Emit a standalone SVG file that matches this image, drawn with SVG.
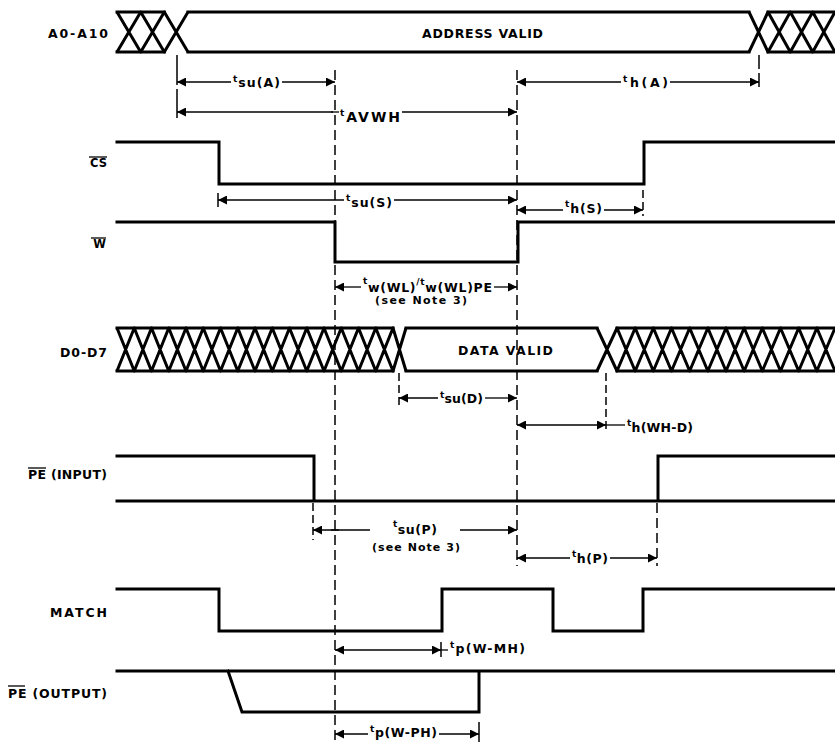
<svg xmlns="http://www.w3.org/2000/svg" width="835" height="742" viewBox="0 0 835 742">
<defs>
<marker id="ah" viewBox="0 0 10 10" refX="10" refY="5" markerWidth="10" markerHeight="9" markerUnits="userSpaceOnUse" orient="auto">
<path d="M0,0 L10,5 L0,10 z" fill="#000"/>
</marker>
<style>
.sig{fill:none;stroke:#000;stroke-width:3;stroke-linejoin:miter;stroke-linecap:square}
.hx{fill:none;stroke:#000;stroke-width:3;stroke-linejoin:round}
.dash{fill:none;stroke:#000;stroke-width:1.5;stroke-dasharray:10 5}
.tick{fill:none;stroke:#000;stroke-width:1.5}
.dim{fill:none;stroke:#000;stroke-width:1.3}
.arr{marker-end:url(#ah)}
.ov{stroke:#000;stroke-width:1.3}
.lb{font-family:"DejaVu Sans","Liberation Sans",Arial,sans-serif;font-weight:bold;font-size:12.5px;fill:#000}
.sm{font-size:11.5px}
.tm{font-family:"DejaVu Sans","Liberation Sans",Arial,sans-serif;font-weight:bold;font-size:12.5px;fill:#000}
.t{font-size:9px}
</style>
</defs>
<rect width="835" height="742" fill="#fff"/>

<g id="sig-address">
<path class="hx" d="M117,12 L140.7,52 L164.3,12 L188,52 M117,52 L140.7,12 L164.3,52 L188,12"/>
<path class="sig" d="M117,12 H164.3 M117,52 H164.3 M188,12 H749 M188,52 H749 M768,12 H835 M768,52 H835"/>
<path class="hx" d="M749,12 L768,52 L790.3,12 L812.7,52 L835,12 M749,52 L768,12 L790.3,52 L812.7,12 L835,52"/>
<text class="lb" x="48" y="38" textLength="60" lengthAdjust="spacing">A0-A10</text>
<text class="lb" x="422" y="38" textLength="121" lengthAdjust="spacing">ADDRESS VALID</text>
</g>

<g id="sig-cs">
<path class="sig" d="M117,142 H219 V184 H644 V142 H835"/>
<text class="lb sm" x="107" y="167" text-anchor="end">CS</text>
<line class="ov" x1="89" y1="157" x2="107" y2="157"/>
</g>

<g id="sig-w">
<path class="sig" d="M117,222 H335 V262 H518 V222 H835"/>
<text class="lb sm" x="106" y="248" text-anchor="end">W</text>
<line class="ov" x1="91" y1="238" x2="106" y2="238"/>
</g>

<g id="sig-data">
<path class="hx" d="M117,328 L134.25,371 L151.5,328 L168.75,371 L186,328 L203.25,371 L220.5,328 L237.75,371 L255,328 L272.25,371 L289.5,328 L306.75,371 L324,328 L341.25,371 L358.5,328 L375.75,371 L393,328 L406,371 M117,371 L134.25,328 L151.5,371 L168.75,328 L186,371 L203.25,328 L220.5,371 L237.75,328 L255,371 L272.25,328 L289.5,371 L306.75,328 L324,371 L341.25,328 L358.5,371 L375.75,328 L393,371 L406,328"/>
<path class="sig" d="M117,328 H393 M117,371 H393 M406,328 H597 M406,371 H597 M617,328 H835 M617,371 H835"/>
<path class="hx" d="M597,328 L617,371 L635.17,328 L653.33,371 L671.5,328 L689.67,371 L707.83,328 L726,371 L744.17,328 L762.33,371 L780.5,328 L798.67,371 L816.83,328 L835,371 M597,371 L617,328 L635.17,371 L653.33,328 L671.5,371 L689.67,328 L707.83,371 L726,328 L744.17,371 L762.33,328 L780.5,371 L798.67,328 L816.83,371 L835,328"/>
<text class="lb" x="60" y="357" textLength="47" lengthAdjust="spacing">D0-D7</text>
<text class="lb" x="458" y="355" textLength="95" lengthAdjust="spacing">DATA VALID</text>
</g>

<g id="sig-pe-input">
<path class="sig" d="M117,456 H314 V501 M117,501 H835 M658,501 V456 H835"/>
<text class="lb" x="28" y="479" textLength="79" lengthAdjust="spacing">PE (INPUT)</text>
<line class="ov" x1="28" y1="468" x2="46" y2="468"/>
</g>

<g id="sig-match">
<path class="sig" d="M117,589 H219 V631 H442 V589 H553 V631 H643 V589 H835"/>
<text class="lb" x="50" y="617" textLength="57" lengthAdjust="spacing">MATCH</text>
</g>

<g id="sig-pe-output">
<path class="sig" d="M117,671 H835 M228,671 L242,712 H479 V671"/>
<text class="lb" x="8" y="698" textLength="99" lengthAdjust="spacing">PE (OUTPUT)</text>
<line class="ov" x1="8" y1="686" x2="25" y2="686"/>
</g>

<g id="connectors">
<line class="dash" x1="177" y1="55" x2="177" y2="118" style="stroke-dasharray:30 4"/>
<line class="dash" x1="335" y1="70" x2="335" y2="742"/>
<line class="dash" x1="517" y1="70" x2="517" y2="566"/>
<line class="dash" x1="759" y1="55" x2="759" y2="88" style="stroke-dasharray:14 4"/>
<line class="tick" x1="218" y1="193" x2="218" y2="207"/>
<line class="dash" x1="643" y1="190" x2="643" y2="216" style="stroke-dasharray:8 4"/>
<line class="dash" x1="399" y1="373" x2="399" y2="406" style="stroke-dasharray:8 4"/>
<line class="dash" x1="606" y1="373" x2="606" y2="432" style="stroke-dasharray:8 4"/>
<line class="dash" x1="313" y1="503" x2="313" y2="540" style="stroke-dasharray:8 4"/>
<line class="dash" x1="657" y1="503" x2="657" y2="566"/>
<line class="tick" x1="441" y1="642" x2="441" y2="657"/>
<line class="tick" x1="479" y1="722" x2="479" y2="742"/>

<line class="dim arr" x1="231" y1="82" x2="177" y2="82"/>
<line class="dim arr" x1="282" y1="82" x2="335" y2="82"/>
<line class="dim arr" x1="333" y1="112" x2="177" y2="112"/>
<line class="dim" x1="331" y1="112" x2="339" y2="112"/>
<line class="dim arr" x1="402" y1="112" x2="517" y2="112"/>
<line class="dim arr" x1="621" y1="82" x2="517" y2="82"/>
<line class="dim arr" x1="670" y1="82" x2="759" y2="82"/>
<line class="dim arr" x1="344" y1="200" x2="218" y2="200"/>
<line class="dim arr" x1="394" y1="200" x2="517" y2="200"/>
<line class="dim arr" x1="563" y1="210" x2="517" y2="210"/>
<line class="dim arr" x1="604" y1="210" x2="643" y2="210"/>
<line class="dim arr" x1="361" y1="287" x2="335" y2="287"/>
<line class="dim arr" x1="494" y1="287" x2="517" y2="287"/>
<line class="dim arr" x1="438" y1="398" x2="399" y2="398"/>
<line class="dim arr" x1="485" y1="398" x2="517" y2="398"/>
<line class="dim arr" x1="560" y1="425" x2="517" y2="425"/>
<line class="dim arr" x1="560" y1="425" x2="606" y2="425"/>
<line class="dim" x1="606" y1="425" x2="625" y2="425"/>
<line class="dim arr" x1="370" y1="530" x2="313" y2="530"/>
<line class="dim" x1="331" y1="530" x2="339" y2="530"/>
<line class="dim arr" x1="460" y1="530" x2="517" y2="530"/>
<line class="dim arr" x1="570" y1="558" x2="517" y2="558"/>
<line class="dim arr" x1="610" y1="558" x2="657" y2="558"/>
<line class="dim arr" x1="390" y1="650" x2="335" y2="650"/>
<line class="dim arr" x1="390" y1="650" x2="441" y2="650"/>
<line class="dim" x1="441" y1="650" x2="448" y2="650"/>
<line class="dim arr" x1="368" y1="734" x2="335" y2="734"/>
<line class="dim arr" x1="439" y1="734" x2="479" y2="734"/>

<text class="tm" x="233" y="87" textLength="47" lengthAdjust="spacing"><tspan class="t" y="82">t</tspan><tspan y="87">su(A)</tspan></text>
<text class="tm" x="340" y="122" textLength="60" lengthAdjust="spacing"><tspan class="t" y="116">t</tspan><tspan y="122" style="font-size:14px">AVWH</tspan></text>
<text class="tm" x="623" y="87" textLength="45" lengthAdjust="spacing"><tspan class="t" y="82">t</tspan><tspan y="87">h(A)</tspan></text>
<text class="tm" x="346" y="207" textLength="46" lengthAdjust="spacing"><tspan class="t" y="201">t</tspan><tspan y="207">su(S)</tspan></text>
<text class="tm" x="565" y="213" textLength="37" lengthAdjust="spacing"><tspan class="t" y="207">t</tspan><tspan y="213">h(S)</tspan></text>
<text class="tm" x="363" y="292" textLength="129" lengthAdjust="spacing"><tspan class="t" y="284">t</tspan><tspan y="292">w(WL)</tspan><tspan class="t" y="285">/t</tspan><tspan y="292">w(WL)PE</tspan></text>
<text class="tm" x="375" y="304" textLength="92" lengthAdjust="spacing" style="font-size:11px">(see Note 3)</text>
<text class="tm" x="440" y="403" textLength="43" lengthAdjust="spacing"><tspan class="t" y="398">t</tspan><tspan y="403">su(D)</tspan></text>
<text class="tm" x="627" y="432" textLength="66" lengthAdjust="spacing"><tspan class="t" y="426">t</tspan><tspan y="432">h(WH-D)</tspan></text>
<text class="tm" x="393" y="534" textLength="44" lengthAdjust="spacing"><tspan class="t" y="527">t</tspan><tspan y="534">su(P)</tspan></text>
<text class="tm" x="372" y="551" textLength="88" lengthAdjust="spacing" style="font-size:11px">(see Note 3)</text>
<text class="tm" x="572" y="563" textLength="36" lengthAdjust="spacing"><tspan class="t" y="557">t</tspan><tspan y="563">h(P)</tspan></text>
<text class="tm" x="450" y="653" textLength="75" lengthAdjust="spacing"><tspan class="t" y="648">t</tspan><tspan y="653">p(W-MH)</tspan></text>
<text class="tm" x="370" y="737" textLength="67" lengthAdjust="spacing"><tspan class="t" y="732">t</tspan><tspan y="737">p(W-PH)</tspan></text>
</g>
</svg>
